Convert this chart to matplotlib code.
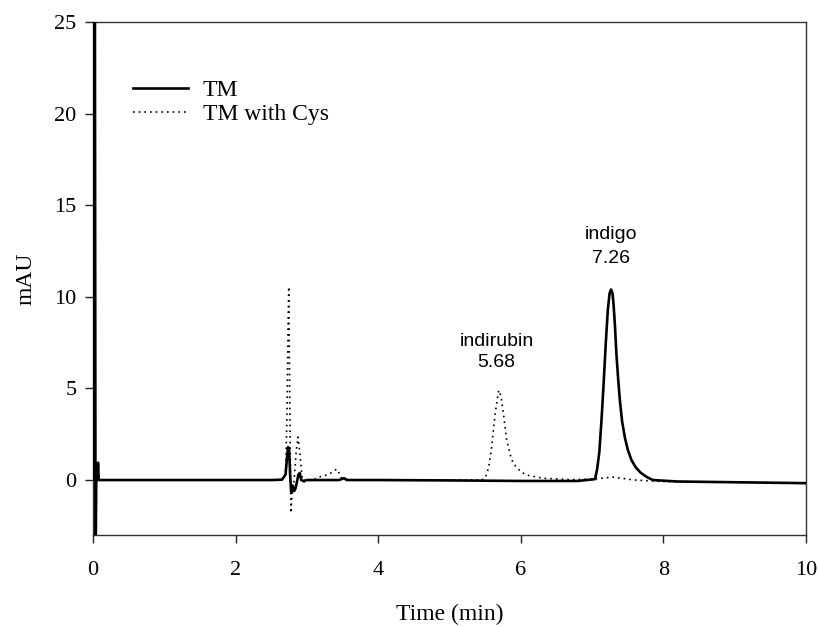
import matplotlib
matplotlib.use("Agg")
import matplotlib.pyplot as plt

# ---- data ----
tm_time = [0.0, 0.015, 0.025, 0.035, 0.045, 0.06, 0.07, 0.08, 0.5, 1.0, 1.5, 2.0, 2.5,
           2.65, 2.70, 2.72, 2.735, 2.75, 2.765, 2.78, 2.80, 2.82, 2.84, 2.86, 2.88, 2.90,
           2.92, 2.95, 3.0, 3.45, 3.52, 3.56, 3.62, 4.0, 5.0, 6.0, 6.8, 7.04, 7.07, 7.10,
           7.13, 7.16, 7.19, 7.22, 7.245, 7.265, 7.285, 7.30, 7.32, 7.34, 7.365, 7.39, 7.42,
           7.46, 7.50, 7.55, 7.61, 7.68, 7.76, 7.85, 8.2, 9.0, 10.0]
tm_mau = [0.0, 0.0, 30.0, -5.0, 0.0, 0.0, 0.95, 0.0, 0.0, 0.0, 0.0, 0.0, 0.0,
          0.02, 0.3, 1.2, 1.8, 1.7, 0.2, -0.7, -0.3, -0.6, -0.45, -0.1, 0.3, 0.38,
          0.0, -0.05, 0.0, 0.0, 0.1, 0.0, 0.0, 0.0, -0.02, -0.05, -0.05, 0.05, 0.6, 1.5,
          3.2, 5.2, 7.4, 9.3, 10.2, 10.4, 10.2, 9.6, 8.4, 6.9, 5.5, 4.3, 3.2,
          2.3, 1.65, 1.1, 0.7, 0.4, 0.18, 0.0, -0.08, -0.12, -0.17]

cys_time = [0.0, 0.5, 1.0, 1.5, 2.0, 2.5, 2.65, 2.70, 2.72, 2.735, 2.745, 2.76, 2.775,
            2.79, 2.82, 2.85, 2.875, 2.90, 2.93, 2.96, 3.0, 3.1, 3.2, 3.3, 3.42, 3.49,
            3.6, 4.0, 5.0, 5.45, 5.50, 5.55, 5.59, 5.64, 5.69, 5.72, 5.755, 5.80, 5.85,
            5.895, 6.0, 6.08, 6.31, 6.69, 7.0, 7.2, 7.28, 7.36, 7.6, 8.0, 9.0, 10.0]
cys_mau = [0.0, 0.0, 0.0, 0.0, 0.0, 0.0, 0.0, 0.3, 3.5, 8.5, 10.55, 4.0, -1.8,
           -0.8, 0.0, 1.6, 2.35, 1.5, 0.2, -0.1, 0.0, 0.05, 0.2, 0.3, 0.6, 0.1,
           0.0, 0.0, 0.0, 0.0, 0.1, 0.7, 1.8, 3.65, 4.9, 4.6, 3.65, 2.2, 1.4,
           0.9, 0.45, 0.27, 0.1, 0.02, 0.05, 0.12, 0.17, 0.12, 0.0, -0.08, -0.12, -0.17]

series_labels = ["TM", "TM with Cys"]
x_ticks = [0, 2, 4, 6, 8, 10]
y_ticks = [0, 5, 10, 15, 20, 25]

serif = ["Liberation Serif", "DejaVu Serif"]
sans = ["Liberation Sans", "DejaVu Sans"]

fig = plt.figure(figsize=(8.19, 6.27), dpi=100)
ax = fig.add_axes([0.1136, 0.1467, 0.8706, 0.8183])

ax.plot(cys_time, cys_mau, color="black", lw=1.2, linestyle=(0, (1, 2.4)),
        label=series_labels[1], zorder=2)
ax.plot(tm_time, tm_mau, color="black", lw=1.9, label=series_labels[0], zorder=3,
        solid_joinstyle="round")

ax.set_xlim(0, 10)
ax.set_ylim(-3, 25)
ax.set_xticks(x_ticks)
ax.set_yticks(y_ticks)
ax.tick_params(direction="out", length=6, width=1, colors="#222222", labelsize=16,
               pad=6, top=False, right=False)
ax.tick_params(axis="x", pad=13)
for lab in ax.get_xticklabels() + ax.get_yticklabels():
    lab.set_family(serif)
    lab.set_color("black")
for sp in ax.spines.values():
    sp.set_color("#333333")
    sp.set_linewidth(1.0)

ax.set_xlabel("Time (min)", family=serif, fontsize=17, labelpad=17)
ax.set_ylabel("mAU", family=serif, fontsize=17, labelpad=13)

handles, labels = ax.get_legend_handles_labels()
order = [1, 0]
leg = ax.legend([handles[i] for i in order], [labels[i] for i in order],
                loc="upper left", bbox_to_anchor=(0.056, 0.888), frameon=False,
                prop={"family": serif, "size": 17}, handlelength=2.33,
                handletextpad=0.62, labelspacing=0.12, borderpad=0, borderaxespad=0)

ax.text(7.265, 13.4, "indigo", ha="center", va="center", family=sans, fontsize=14)
ax.text(7.265, 12.1, "7.26", ha="center", va="center", family=sans, fontsize=14)
ax.text(5.66, 7.56, "indirubin", ha="center", va="center", family=sans, fontsize=14)
ax.text(5.66, 6.39, "5.68", ha="center", va="center", family=sans, fontsize=14)

fig.savefig("out.png", dpi=100)
